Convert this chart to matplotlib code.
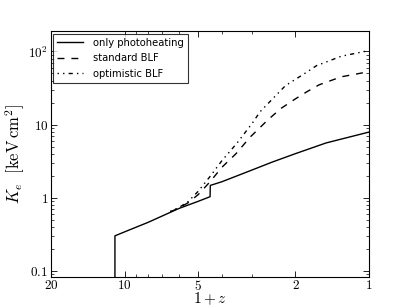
import matplotlib
matplotlib.use("Agg")
import matplotlib.pyplot as plt
from matplotlib.ticker import FixedLocator, FixedFormatter, NullFormatter

plt.rcParams['mathtext.fontset'] = 'cm'
plt.rcParams['xtick.direction'] = 'in'
plt.rcParams['ytick.direction'] = 'in'

# only photoheating
zp_solid = [10.95, 10.95, 10.0, 8.0, 6.0, 5.0, 4.47, 4.46, 4.0, 3.0, 2.5, 2.0, 1.5, 1.0]
k_solid = [0.05, 0.30, 0.34, 0.46, 0.71, 0.89, 1.03, 1.47, 1.65, 2.4, 3.05, 4.0, 5.6, 7.9]

# standard BLF
zp_std = [6.5, 6.0, 5.5, 5.0, 4.47, 4.0, 3.5, 3.07, 2.6, 2.3, 2.0, 1.8, 1.6, 1.3, 1.0]
k_std = [0.64, 0.72, 0.85, 1.1, 1.65, 2.6, 4.0, 6.7, 11.5, 16.5, 22.5, 28.0, 35.0, 45.0, 53.0]

# optimistic BLF
zp_opt = [6.5, 6.0, 5.5, 5.0, 4.47, 4.0, 3.48, 3.0, 2.79, 2.2, 1.8, 1.64, 1.3, 1.0]
k_opt = [0.65, 0.73, 0.88, 1.22, 1.95, 3.2, 5.5, 10.5, 15.0, 34.0, 52.0, 64.0, 86.0, 103.0]

labels = ['only photoheating', 'standard BLF', 'optimistic BLF']
xticks = [20, 10, 5, 2, 1]
xticklabels = ['$20$', '$10$', '$5$', '$2$', '$1$']
yticks = [0.1, 1, 10, 100]
yticklabels = ['$0.1$', '$1$', '$10$', '$10^2$']

fig = plt.figure(figsize=(4.11, 3.08), dpi=100)
ax = fig.add_axes([0.124, 0.1006, 0.774, 0.7984])
ax.plot(zp_solid, k_solid, color='black', lw=1.0, ls='-', label=labels[0])
ax.plot(zp_std, k_std, color='black', lw=1.0, ls=(0, (5, 5)), label=labels[1])
ax.plot(zp_opt, k_opt, color='black', lw=1.0, ls=(0, (1, 3, 1, 3, 3, 3)), label=labels[2])

ax.set_xscale('log')
ax.set_yscale('log')
ax.set_xlim(20, 1)
ax.set_ylim(0.082, 190)

ax.xaxis.set_major_locator(FixedLocator(xticks))
ax.xaxis.set_major_formatter(FixedFormatter(xticklabels))
ax.xaxis.set_minor_formatter(NullFormatter())
ax.yaxis.set_major_locator(FixedLocator(yticks))
ax.yaxis.set_major_formatter(FixedFormatter(yticklabels))
ax.yaxis.set_minor_formatter(NullFormatter())
ax.tick_params(which='both', top=True, right=True, labelsize=9.5, pad=2)
ax.tick_params(axis='x', which='both', pad=1.5)
ax.tick_params(which='major', length=4, width=0.6)
ax.tick_params(which='minor', length=2, width=0.5)

ax.set_xlabel(r'$1+z$', fontsize=11, va='bottom')
ax.xaxis.set_label_coords(0.5, -0.122)
ax.set_ylabel(r'$K_e\ \ [\mathrm{keV\,cm^2}]$', fontsize=12, va='center')
ax.yaxis.set_label_coords(-0.113, 0.5)

leg = ax.legend(loc='upper left', fontsize=7.2, frameon=True, fancybox=False,
                edgecolor='black', handlelength=2.6, borderaxespad=0.25,
                labelspacing=0.55, handletextpad=1.0)
leg.get_frame().set_linewidth(0.8)

fig.savefig('out.png', dpi=100)
